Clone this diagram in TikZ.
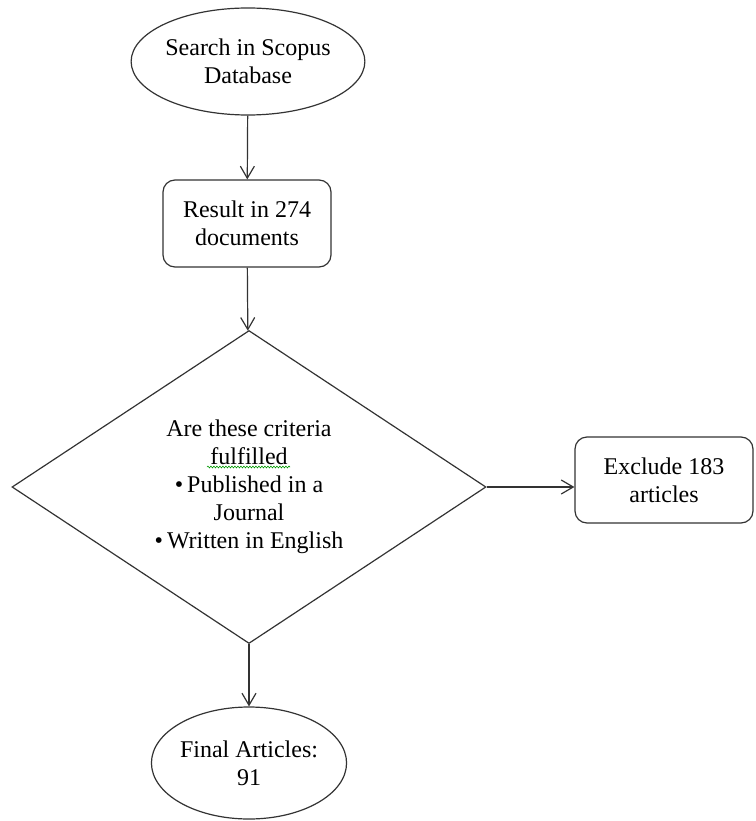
\documentclass[tikz,border=0pt]{standalone}
\usepackage{fontspec}
\setmainfont{Liberation Serif}
\usetikzlibrary{shapes.geometric,arrows.meta,decorations.pathmorphing}
\tikzstyle{oval} = [draw, ellipse, inner sep=0pt, minimum width=170pt, minimum height=107pt, align=center]
\tikzstyle{box} = [draw, rounded corners=12pt, inner sep=0pt, minimum width=168pt, minimum height=87pt, align=center]
\tikzstyle{check} = [draw, diamond, inner sep=0pt, aspect=1.51, minimum width=474pt, minimum height=313pt, align=center]
\tikzstyle{flow} = [-{Straight Barb[length=12pt,width=14pt]}]
\tikzstyle{spell} = [green!60!black, line width=0.6pt, decorate, decoration={snake,amplitude=0.9pt,segment length=3pt}]

\begin{document}
\begin{tikzpicture}[x=1pt,y=-1pt,line width=1.2pt,draw=black!80,text=black,font=\fontsize{24}{28}\selectfont]
    \useasboundingbox (0,0) rectangle (755,821);
    \node[oval](search) at (248,61.5){Search in Scopus\\Database};
    \node[box](result) at (247,223.5){Result in 274\\documents};
    \node[check](crit) at (249,487){Are these criteria\\fulfilled\\\textbullet\,Published in a\\Journal\\\textbullet\,Written in English};
    \node[box,minimum width=178pt,minimum height=86pt](exclude) at (664,480){Exclude 183\\articles};
    \node[oval,minimum height=112pt](final) at (249,763){Final Articles:\\91};
    \draw[spell]([shift={(-42,-20)}]crit.center)--([shift={(41,-20)}]crit.center);
    \draw[flow](search)--(result);
    \draw[flow](result)--(crit);
    \draw[flow](crit.east)--(crit.east -| exclude.west);
    \draw[flow](crit)--(final);
  \end{tikzpicture}
\end{document}
